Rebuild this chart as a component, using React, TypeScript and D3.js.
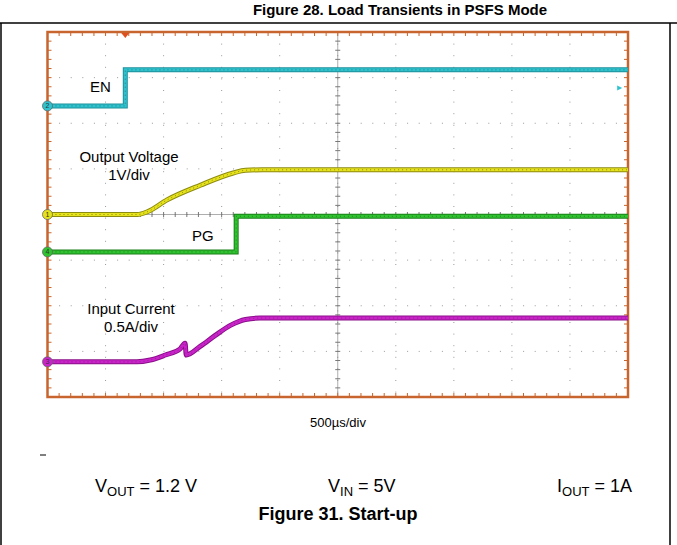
import React from "react";
import * as d3 from "d3";

// scope screen is 10 x 8 divisions, values below are in divisions
const channelNames = ["EN", "Output Voltage", "PG", "Input Current"];
const channelIds = ["2", "1", "4", "3"];
const channelOffsets = [2.38, 0, -0.82, -3.23];

const enTrace: [number, number][] = [[0, 2.38], [1.34, 2.38], [1.34, 3.17], [10, 3.17]];
const voutTrace: [number, number][] = [
  [0, 0], [1.55, 0], [1.72, 0.06], [2.06, 0.32], [2.63, 0.64], [3.2, 0.91], [3.41, 0.97], [3.7, 0.98], [10, 0.98],
];
const pgTrace: [number, number][] = [[0, -0.82], [3.25, -0.82], [3.25, -0.04], [10, -0.04]];
const iinTrace: [number, number][] = [
  [0, -3.23], [1.54, -3.23], [1.77, -3.19], [2.03, -3.08], [2.28, -2.95], [2.37, -2.82], [2.39, -3.08],
  [2.63, -2.89], [2.89, -2.65], [3.15, -2.43], [3.41, -2.3], [3.66, -2.27], [10, -2.27],
];

const timeDiv = "500µs/div";
const triggerAt = 1.34;

const W = 677;
const H = 545;
const font = "'Liberation Sans', Arial, sans-serif";

const x = d3.scaleLinear().domain([0, 10]).range([47.5, 628]);
const y = d3.scaleLinear().domain([-4, 4]).range([397, 32]);

const stepLine = d3.line<[number, number]>().x((d) => x(d[0])).y((d) => y(d[1]));
const smoothLine = d3
  .line<[number, number]>()
  .x((d) => x(d[0]))
  .y((d) => y(d[1]))
  .curve(d3.curveMonotoneX);

const Trace = ({ d, color, edge }: { d: string; color: string; edge: string }) => (
  <g fill="none">
    <path d={d} stroke={edge} strokeWidth={5} />
    <path d={d} stroke={color} strokeWidth={3} />
    <path d={d} stroke="#333" strokeWidth={1} strokeDasharray="1 3" opacity={0.5} />
  </g>
);

const Marker = ({ v, color, id }: { v: number; color: string; id: string }) => (
  <g>
    <circle cx={x(0)} cy={y(v)} r={5} fill={color} stroke="#666" strokeWidth={0.8} />
    <text x={x(0)} y={y(v) + 2.5} fontSize={7} textAnchor="middle" fill="#333" fontFamily={font}>
      {id}
    </text>
  </g>
);

export default function App() {
  const frame = "#c8642d";
  const minorX = d3.range(0, 10.001, 0.2);
  const minorY = d3.range(-4, 4.001, 0.2);
  const majorX = d3.range(1, 10, 1);
  const majorY = d3.range(-3, 4, 1);

  return (
    <svg width={W} height={H} style={{ position: "absolute", left: 0, top: 0, background: "#fff" }}>
      {/* page box */}
      <text x={400} y={15} textAnchor="middle" fontFamily={font} fontWeight="bold" fontSize={15}>
        Figure 28. Load Transients in PSFS Mode
      </text>
      <line x1={0} x2={W} y1={23} y2={23} stroke="#000" strokeWidth={1.5} />
      <line x1={1} x2={1} y1={23} y2={H} stroke="#000" strokeWidth={1.5} />
      <line x1={670} x2={670} y1={23} y2={H} stroke="#000" strokeWidth={1.5} />

      {/* grid */}
      <g stroke="#9a9a9a" strokeWidth={1} strokeDasharray="1 10.6">
        {majorX.map((t) => (
          <line key={"gx" + t} x1={x(t)} x2={x(t)} y1={y(4)} y2={y(-4)} />
        ))}
      </g>
      <g stroke="#9a9a9a" strokeWidth={1} strokeDasharray="1 10.6">
        {majorY.map((v) => (
          <line key={"gy" + v} x1={x(0)} x2={x(10)} y1={y(v)} y2={y(v)} />
        ))}
      </g>
      {/* center axes */}
      <g stroke="#777" strokeWidth={1}>
        <line x1={x(5)} x2={x(5)} y1={y(4)} y2={y(-4)} strokeWidth={0.6} />
        <line x1={x(0)} x2={x(10)} y1={y(0)} y2={y(0)} strokeWidth={0.6} />
        {minorX.map((t) => (
          <line key={"cx" + t} x1={x(t)} x2={x(t)} y1={y(0) - 2.5} y2={y(0) + 2.5} />
        ))}
        {minorY.map((v) => (
          <line key={"cy" + v} x1={x(5) - 2.5} x2={x(5) + 2.5} y1={y(v)} y2={y(v)} />
        ))}
      </g>

      {/* frame ticks */}
      <g stroke={frame} strokeWidth={1}>
        {minorX.map((t) => (
          <g key={"fx" + t}>
            <line x1={x(t)} x2={x(t)} y1={y(4)} y2={y(4) + 4} />
            <line x1={x(t)} x2={x(t)} y1={y(-4)} y2={y(-4) - 4} />
          </g>
        ))}
        {minorY.map((v) => (
          <g key={"fy" + v}>
            <line x1={x(0)} x2={x(0) + 4} y1={y(v)} y2={y(v)} />
            <line x1={x(10)} x2={x(10) - 4} y1={y(v)} y2={y(v)} />
          </g>
        ))}
      </g>
      <rect x={x(0)} y={y(4)} width={x(10) - x(0)} height={y(-4) - y(4)} fill="none" stroke={frame} strokeWidth={2.5} />
      <path
        d={`M${x(triggerAt) - 4},${y(4) + 1}L${x(triggerAt) + 4},${y(4) + 1}L${x(triggerAt)},${y(4) + 6}Z`}
        fill="#e0501e"
      />

      {/* traces */}
      <Trace d={stepLine(enTrace)!} color="#2cc3cf" edge="#1e8f9a" />
      <Trace d={smoothLine(voutTrace)!} color="#e6e21a" edge="#8c8a10" />
      <Trace d={stepLine(pgTrace)!} color="#2ec42e" edge="#1a7f1a" />
      <Trace d={smoothLine(iinTrace)!} color="#cc22cc" edge="#8a108a" />
      <path d={`M${x(9.9)},${y(2.77)}l-5,-2.5l0,5Z`} fill="#2cc3cf" />

      <Marker v={channelOffsets[0]} color="#2cc3cf" id={channelIds[0]} />
      <Marker v={channelOffsets[1]} color="#e6e21a" id={channelIds[1]} />
      <Marker v={channelOffsets[2]} color="#2ec42e" id={channelIds[2]} />
      <Marker v={channelOffsets[3]} color="#cc22cc" id={channelIds[3]} />

      {/* labels */}
      <g fontFamily={font} fontSize={15} fill="#000">
        <text x={90} y={92}>{channelNames[0]}</text>
        <text x={129} y={162} textAnchor="middle">{channelNames[1]}</text>
        <text x={129} y={180} textAnchor="middle">1V/div</text>
        <text x={192} y={241}>{channelNames[2]}</text>
        <text x={131} y={314} textAnchor="middle">{channelNames[3]}</text>
        <text x={131} y={332} textAnchor="middle">0.5A/div</text>
      </g>
      <text x={338} y={427} textAnchor="middle" fontFamily={font} fontSize={13}>
        {timeDiv}
      </text>
      <line x1={40} x2={46} y1={455} y2={455} stroke="#000" strokeWidth={1} />

      <g fontFamily={font} fontSize={18} fill="#000">
        <text x={95} y={492}>
          V<tspan fontSize={13} dy={4}>OUT</tspan>
          <tspan dy={-4}> = 1.2 V</tspan>
        </text>
        <text x={328} y={492}>
          V<tspan fontSize={13} dy={4}>IN</tspan>
          <tspan dy={-4}> = 5V</tspan>
        </text>
        <text x={557} y={492}>
          I<tspan fontSize={13} dy={4}>OUT</tspan>
          <tspan dy={-4}> = 1A</tspan>
        </text>
      </g>
      <text x={338} y={520} textAnchor="middle" fontFamily={font} fontWeight="bold" fontSize={18}>
        Figure 31. Start-up
      </text>
    </svg>
  );
}
